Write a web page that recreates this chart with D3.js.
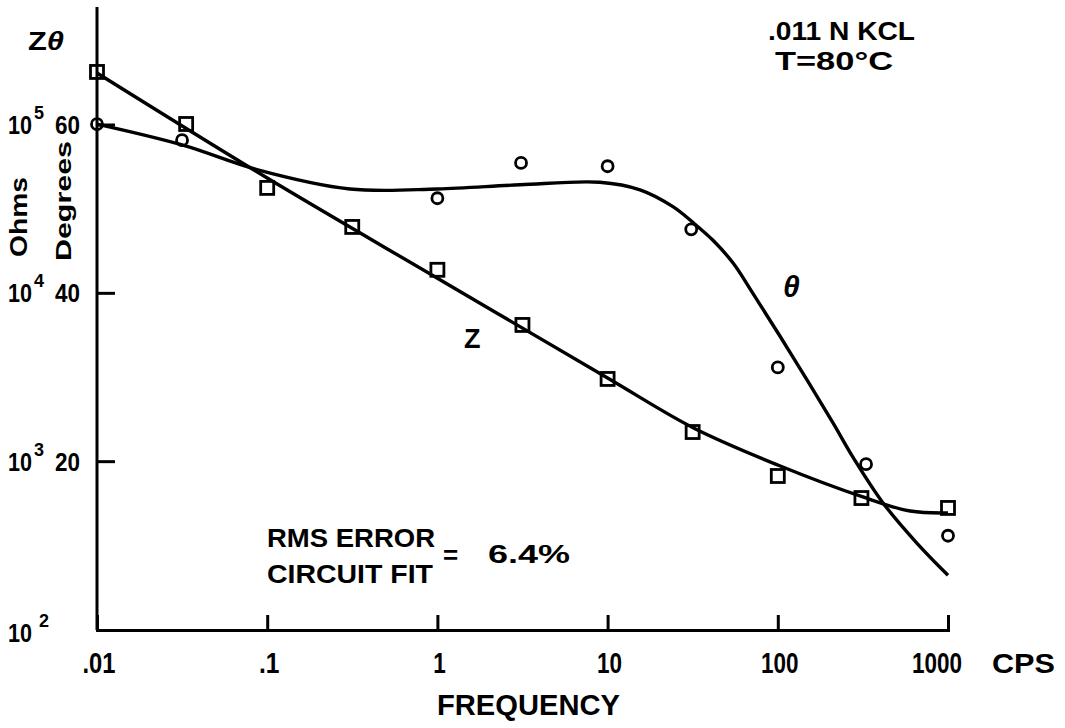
<!DOCTYPE html>
<html>
<head>
<meta charset="utf-8">
<script src="https://cdn.jsdelivr.net/npm/d3@7"></script>
<style>
body{margin:0;background:#fff}
svg text{font-family:"Liberation Sans",Arial,sans-serif;font-weight:bold;fill:#000}
</style>
</head>
<body>
<svg id="chart" width="1065" height="728"></svg>
<script>
// measured points: squares = |Z| (ohms), circles = phase angle (degrees)
const freqZ = [0.01, 0.0334, 0.1, 0.316, 1, 3.16, 10, 31.6, 100, 310, 1000]
const ohmsZ = [206600, 101400, 42300, 24800, 13800, 6490, 3100, 1500, 822, 608, 531]

const freqTheta = [0.01, 0.0316, 1, 3.1, 10, 31, 100, 330, 1000]
const degTheta = [60.1, 58.2, 51.3, 55.5, 55.1, 47.6, 31.2, 19.7, 11.2]

// circuit fit curves
const fitFreqZ = [0.01, 0.1, 1, 10, 32, 100, 316, 600, 1000]
const fitOhmsZ = [203700, 48400, 12300, 3140, 1585, 955, 617, 509, 496]

const fitFreqTheta = [0.01, 0.032, 0.087, 0.306, 1, 3.06, 9, 15.5, 24.2, 31.8, 41.6, 54.6, 71.4, 123, 211, 277, 415, 658, 1000]
const fitDegTheta = [60.1, 57.6, 54.7, 52.4, 52.4, 52.9, 53.2, 52.3, 50.3, 48.4, 46.3, 43.6, 40.0, 32.4, 24.6, 20.5, 15.1, 10.3, 6.5]

const xTicks = [0.01, 0.1, 1, 10, 100, 1000]
const xTickLabels = [".01", ".1", "1", "10", "100", "1000"]
const ohmTicks = [1e2, 1e3, 1e4, 1e5]
const ohmExp = ["2", "3", "4", "5"]
const degTicks = [20, 40, 60]

const svg = d3.select("#chart")

const x = d3.scaleLog().domain([0.01, 1000]).range([97, 948])
const yOhm = d3.scaleLog().domain([100, 1e5]).range([630, 125])
const yDeg = d3.scaleLinear().domain([0, 60]).range([630, 125])

const line = d3.line().curve(d3.curveCatmullRom.alpha(0.5))

// fit curves
svg.append("path")
    .attr("d", line(fitFreqZ.map((f, i) => [x(f), yOhm(fitOhmsZ[i])])))
    .attr("fill", "none").attr("stroke", "#000").attr("stroke-width", 3.4)
svg.append("path")
    .attr("d", line(fitFreqTheta.map((f, i) => [x(f), yDeg(fitDegTheta[i])])))
    .attr("fill", "none").attr("stroke", "#000").attr("stroke-width", 3.4)

// squares
svg.selectAll(".sq").data(freqZ).enter().append("rect")
    .attr("class", "sq")
    .attr("x", d => x(d) - 6.5)
    .attr("y", (d, i) => yOhm(ohmsZ[i]) - 6.5)
    .attr("width", 13).attr("height", 13)
    .attr("fill", "none").attr("stroke", "#000").attr("stroke-width", 2.8)

// circles
svg.selectAll(".ci").data(freqTheta).enter().append("circle")
    .attr("class", "ci")
    .attr("cx", d => x(d))
    .attr("cy", (d, i) => yDeg(degTheta[i]))
    .attr("r", 5.5)
    .attr("fill", "none").attr("stroke", "#000").attr("stroke-width", 2.8)

// x axis
const gx = svg.append("g")
    .attr("transform", "translate(0,630)")
    .call(d3.axisBottom(x).tickValues(xTicks.slice(1)).tickSize(-15).tickSizeOuter(-15).tickFormat(""))
gx.selectAll("path,line").attr("stroke", "#000").attr("stroke-width", 3)

// y axis
svg.append("line")
    .attr("x1", x(0.01)).attr("x2", x(0.01))
    .attr("y1", 7).attr("y2", yOhm(100))
    .attr("stroke", "#000").attr("stroke-width", 3)
svg.selectAll(".ytick").data(ohmTicks.slice(1)).enter().append("line")
    .attr("class", "ytick")
    .attr("x1", x(0.01)).attr("x2", x(0.01) + 18)
    .attr("y1", d => yOhm(d)).attr("y2", d => yOhm(d))
    .attr("stroke", "#000").attr("stroke-width", 3)

// x tick labels
function labelWidth(s) {
    return s.replace(/\./g, "").length * 12.5 + (s.indexOf(".") >= 0 ? 8 : 0)
}
svg.selectAll(".xlab").data(xTicks).enter().append("text")
    .attr("class", "xlab")
    .attr("x", (d, i) => i == xTicks.length - 1 ? x(d) + 14 : x(d) + 2)
    .attr("y", 673)
    .attr("text-anchor", (d, i) => i == xTicks.length - 1 ? "end" : "middle")
    .attr("font-size", 30)
    .attr("textLength", (d, i) => labelWidth(xTickLabels[i]))
    .attr("lengthAdjust", "spacingAndGlyphs")
    .text((d, i) => xTickLabels[i])

// plain text with a fixed overall width
function note(px, py, size, w, s) {
    return svg.append("text").attr("x", px).attr("y", py).attr("font-size", size)
        .attr("textLength", w).attr("lengthAdjust", "spacingAndGlyphs").text(s)
}

note(992, 673, 28, 63, "CPS")
note(437, 715, 29, 183, "FREQUENCY")

// y tick labels (ohms with exponent, degrees)
ohmTicks.forEach((t, i) => {
    const yy = yOhm(t) + (i == 0 ? 3 : 0)
    svg.append("text").attr("x", 32).attr("y", yy + 9).attr("text-anchor", "end")
        .attr("font-size", 25).attr("textLength", 24).attr("lengthAdjust", "spacingAndGlyphs").text("10")
    svg.append("text").attr("x", i == 0 ? 39 : 34).attr("y", yy - 6)
        .attr("font-size", 18).text(ohmExp[i])
})
svg.selectAll(".dlab").data(degTicks).enter().append("text")
    .attr("class", "dlab")
    .attr("x", 80).attr("y", d => yDeg(d) + 9)
    .attr("text-anchor", "end").attr("font-size", 25)
    .attr("textLength", 25).attr("lengthAdjust", "spacingAndGlyphs")
    .text(d => d)

// axis titles
svg.append("text").attr("transform", "translate(27,217) rotate(-90)")
    .attr("text-anchor", "middle").attr("font-size", 23)
    .attr("textLength", 80).attr("lengthAdjust", "spacingAndGlyphs").text("Ohms")
svg.append("text").attr("transform", "translate(71,201) rotate(-90)")
    .attr("text-anchor", "middle").attr("font-size", 22)
    .attr("textLength", 120).attr("lengthAdjust", "spacingAndGlyphs").text("Degrees")

const zt = svg.append("text").attr("x", 28).attr("y", 50).attr("font-size", 26)
    .attr("textLength", 36).attr("lengthAdjust", "spacingAndGlyphs")
zt.append("tspan").text("Z")
zt.append("tspan").attr("font-style", "italic").text("θ")

// curve labels
svg.append("text").attr("x", x(1.6)).attr("y", yOhm(4730)).attr("text-anchor", "middle")
    .attr("font-size", 27).text("Z")
svg.append("text").attr("x", x(120)).attr("y", yDeg(39.6)).attr("text-anchor", "middle")
    .attr("font-size", 30).attr("font-style", "italic").text("θ")

// notes
note(768, 40, 25, 147, ".011 N KCL")
note(775, 70, 25, 118, "T=80°C")
note(267, 547, 26, 168, "RMS ERROR")
note(267, 583, 26, 166, "CIRCUIT FIT")
svg.append("text").attr("x", 443).attr("y", 564).attr("font-size", 26).text("=")
note(488, 563, 25, 82, "6.4%")
</script>
</body>
</html>
